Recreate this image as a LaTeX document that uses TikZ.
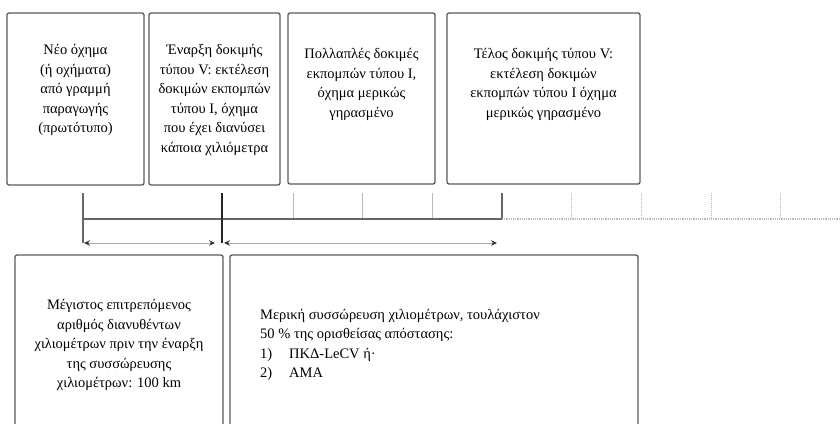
\documentclass[tikz,border=0pt]{standalone}
\usepackage{fontspec}
\setmainfont{Liberation Serif}
\usetikzlibrary{arrows.meta, positioning}

\begin{document}
\begin{tikzpicture}[x=1pt, y=-1pt,
  stage/.style={rectangle, draw=gray!70!black, line width=1.3pt, rounded corners=2pt, inner sep=0pt},
  stagetext/.style={align=center, inner sep=0pt, font=\fontsize{14.5}{19.5}\selectfont},
  axis/.style={gray!80!black, line width=1.2pt},
  axisfar/.style={gray!55, line width=1.2pt, densely dotted},
  tick/.style={gray!55, line width=1pt},
  span/.style={gray!65, line width=1pt, {Stealth[length=6pt,width=5.5pt,color=black!80]}-{Stealth[length=6pt,width=5.5pt,color=black!80]}}
]
  \useasboundingbox (0,0) rectangle (840,423);
  \clip (0,0) rectangle (840,423);

  % top row
  \node[stage, minimum width=137pt, minimum height=172pt] (newveh) at (75.5,99) {};
  \node[stage, minimum width=131pt, minimum height=172pt] (startV) at (214.5,99) {};
  \node[stage, minimum width=147pt, minimum height=171pt] (multiI) at (361.5,98.5) {};
  \node[stage, minimum width=193pt, minimum height=171pt] (endV) at (543.5,98.5) {};

  \node[stagetext, below=32pt of newveh.north] (newtxt) {Νέο όχημα\\(ή οχήματα)\\από γραμμή\\παραγωγής\\(πρωτότυπο)};
  \node[stagetext, below=32pt of startV.north] (starttxt) {Έναρξη δοκιμής\\τύπου V: εκτέλεση\\δοκιμών εκπομπών\\τύπου I, όχημα\\που έχει διανύσει\\κάποια χιλιόμετρα};
  \node[stagetext, below=36pt of multiI.north] (multitxt) {Πολλαπλές δοκιμές\\εκπομπών τύπου I,\\όχημα μερικώς\\γηρασμένο};
  \node[stagetext, below=36pt of endV.north] (endtxt) {Τέλος δοκιμής τύπου V:\\εκτέλεση δοκιμών\\εκπομπών τύπου I όχημα\\μερικώς γηρασμένο};

  % bottom row
  \node[stage, minimum width=208pt, minimum height=185pt] (maxkm) at (119,347.5) {};
  \node[stage, minimum width=408pt, minimum height=185pt] (accum) at (434,347.5) {};

  \node[stagetext, below=45pt of maxkm.north] (maxtxt) {Μέγιστος επιτρεπόμενος\\αριθμός διανυθέντων\\χιλιομέτρων πριν την έναρξη\\της συσσώρευσης\\χιλιομέτρων: 100 km};
  \node[stagetext, align=left, anchor=north west] (accumtxt) at (260,309) {Μερική συσσώρευση χιλιομέτρων, τουλάχιστον\\50 \% της ορισθείσας απόστασης:\\\makebox[29pt][l]{1)}ΠΚΔ-LeCV ή·\\\makebox[29pt][l]{2)}ΑΜΑ};

  % time axis
  \coordinate (a0) at (83,193);
  \coordinate (a2) at (222,193);
  \coordinate (amid) at (502,193);
  \coordinate (aend) at (840,219);

  \foreach \x in {293,362,432}
    \draw[tick] (\x,193) -- (\x,219);
  \foreach \x in {571,641,711,780}
    \draw[tick, densely dotted] (\x,193) -- (\x,219);

  \draw[axis] (a0 |- aend) -- (amid |- aend) -- (amid);
  \draw[axisfar] (amid |- aend) -- (aend);
  \draw[axis] (a0) -- ++(0,50);
  \draw[axis, line width=2.2pt, black!85] (a2) -- ++(0,50);

  \draw[span] ([xshift=1pt]a0 |- 0,243) -- ([xshift=-7pt]a2 |- 0,243);
  \draw[span] ([xshift=2pt]a2 |- 0,243) -- (497,243);
\end{tikzpicture}
\end{document}
